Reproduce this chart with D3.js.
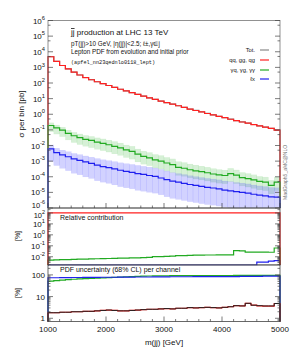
<!DOCTYPE html>
<html><head><meta charset="utf-8">
<script src="https://cdn.jsdelivr.net/npm/d3@7"></script>
<style>body{margin:0;background:#fff}svg{display:block;font-family:"Liberation Sans",Arial,sans-serif}</style>
</head><body><svg id="c" width="293" height="351"></svg>
<script>
// ---------------- data ----------------
const binEdges = [1000,1100,1200,1300,1400,1500,1600,1700,1800,1900,2000,2100,2200,2300,2400,2500,2600,2700,2800,2900,3000,3100,3200,3300,3400,3500,3600,3700,3800,3900,4000,4100,4200,4300,4400,4500,4600,4700,4800,4900,5000];
const seriesNames = ["Tot.", "qq, gg, qg", "γq, γg, γγ", "ℓx"];
// cross sections [pb] per bin
const totXs = [4810,2455,1322,797,491,325,225,162.5,120.4,91.2,69.2,52.6,39.9,31,24.1,18.65,14.55,11.22,8.92,6.92,5.51,4.41,3.51,2.76,2.145,1.745,1.414,1.123,0.912,0.742,0.602,0.482,0.392,0.321,0.271,0.221,0.181,0.1485,0.1234,0.0953];
const qqXs  = [4800,2450,1320,795,490,324,224,162,120,91,69,52.5,39.8,30.9,24,18.6,14.5,11.2,8.9,6.9,5.5,4.4,3.5,2.75,2.14,1.74,1.41,1.12,0.91,0.74,0.60,0.48,0.39,0.32,0.27,0.22,0.18,0.148,0.123,0.095];
const gamXs = [0.19,0.135,0.095,0.060,0.042,0.032,0.025,0.021,0.0166,0.0138,0.0112,0.0089,0.0071,0.0052,0.0042,0.0028,0.0020,0.0016,0.0012,0.0010,7.6e-4,6.0e-4,4.0e-4,3.5e-4,2.8e-4,2.4e-4,2.1e-4,1.8e-4,1.5e-4,1.3e-4,1.2e-4,1.6e-4,1.26e-4,8.9e-5,7.6e-5,6.3e-5,5.0e-5,4.5e-5,2.8e-5,4.5e-5];
const lepXs = [6.0e-3,3.5e-3,2.5e-3,1.9e-3,1.4e-3,1.12e-3,8.9e-4,7.1e-4,5.6e-4,4.5e-4,3.8e-4,3.2e-4,2.6e-4,2.2e-4,1.9e-4,1.6e-4,1.4e-4,1.2e-4,1.05e-4,8.3e-5,6.6e-5,5.2e-5,4.5e-5,3.8e-5,3.2e-5,2.8e-5,2.4e-5,2.1e-5,1.9e-5,1.66e-5,1.4e-5,1.26e-5,1.12e-5,1.0e-5,8.9e-6,7.6e-6,6.6e-6,6.0e-6,5.2e-6,5.0e-6];
// uncertainty band factors (upper / lower multipliers)
const gamBandUp = [1.48,1.5,1.55,1.6,1.65,1.7,1.75,1.8,1.85,1.9,1.95,2.0,2.0,2.05,2.1,2.1,2.15,2.2,2.2,2.25,2.25,2.3,2.3,2.3,2.3,2.3,2.25,2.25,2.2,2.2,2.2,2.15,2.15,2.1,2.1,2.1,2.1,2.1,2.1,2.1];
const gamBandDn = [0.41,0.40,0.39,0.38,0.37,0.36,0.36,0.35,0.35,0.34,0.34,0.33,0.33,0.33,0.32,0.32,0.32,0.32,0.31,0.31,0.31,0.31,0.31,0.31,0.31,0.30,0.30,0.30,0.30,0.30,0.30,0.30,0.29,0.29,0.29,0.29,0.29,0.29,0.29,0.29];
const lepBandUp = [1.8,1.9,2.0,2.1,2.2,2.3,2.4,2.5,2.6,2.7,2.8,2.9,3.0,3.1,3.2,3.3,3.3,3.4,3.4,3.5,3.5,3.5,3.5,3.6,3.6,3.6,3.7,3.7,3.7,3.8,3.8,3.8,3.8,3.9,3.9,3.9,3.9,3.9,3.9,3.9];
const lepBandDn = [0.16,0.15,0.14,0.13,0.12,0.12,0.11,0.11,0.10,0.10,0.10,0.095,0.09,0.09,0.09,0.085,0.085,0.085,0.085,0.085,0.08,0.08,0.08,0.08,0.08,0.08,0.08,0.08,0.08,0.08,0.08,0.08,0.08,0.08,0.08,0.08,0.08,0.08,0.08,0.08];
// relative contribution [%]
const qqRel  = [99.99,99.99,99.99,99.99,99.99,99.99,99.99,99.99,99.99,99.99,99.99,99.99,99.99,99.99,99.99,99.99,99.99,99.99,99.99,99.99,99.99,99.99,99.99,99.99,99.99,99.99,99.99,99.99,99.99,99.99,99.99,99.99,99.98,99.98,99.98,99.98,99.98,99.98,99.98,99.97];
const gamRel = [0.005,0.0052,0.0054,0.0056,0.0058,0.006,0.0062,0.0064,0.0066,0.0068,0.007,0.0072,0.0074,0.0076,0.0078,0.008,0.0085,0.009,0.0105,0.0105,0.011,0.0115,0.013,0.013,0.0135,0.014,0.014,0.0145,0.0145,0.015,0.015,0.015,0.037,0.035,0.027,0.027,0.027,0.027,0.026,0.063];
const lepRel = [0.001,0.001,0.001,0.001,0.001,0.001,0.001,0.001,0.001,0.001,0.001,0.001,0.001,0.001,0.001,0.001,0.001,0.001,0.001,0.001,0.001,0.001,0.001,0.001,0.001,0.001,0.001,0.001,0.001,0.001,0.001,0.001,0.001,0.001,0.001,0.001,0.0032,0.0032,0.004,0.0045];
// PDF uncertainty per channel [%]
const totUnc = [1.8,1.8,1.9,1.9,2.0,2.0,2.1,2.1,2.2,2.3,2.4,2.3,2.2,2.2,2.3,2.4,2.5,2.6,2.6,2.7,2.8,2.7,2.9,2.9,3.1,3.0,3.1,3.2,3.1,3.0,3.2,3.4,3.8,3.7,4.9,4.0,3.8,3.7,3.7,4.8];
const qqUnc  = [1.8,1.8,1.9,1.9,2.0,2.0,2.1,2.1,2.2,2.3,2.4,2.3,2.2,2.2,2.3,2.4,2.5,2.6,2.6,2.7,2.8,2.7,2.9,2.9,3.1,3.0,3.1,3.2,3.1,3.0,3.2,3.4,3.8,3.7,4.9,4.0,3.7,3.6,3.6,4.8];
const gamUnc = [52,55,58,61,63,65,67,69,71,73,75,77,79,81,83,85,87,89,90,91,91,92,92,92,93,93,93,93,94,94,94,94,95,95,95,95,95,95,95,96];
const lepUnc = [74,74,75,75,76,76,77,77,77,78,78,78,79,79,79,80,80,80,81,81,81,82,82,82,82,83,83,83,83,84,84,84,84,85,85,86,86,87,87,88];
const xTicks = [1000,2000,3000,4000,5000];
const colors = {tot:"#888888", qq:"#ff2020", gam:"#22aa22", lep:"#2020ee"};

// ---------------- layout ----------------
const svg = d3.select("#c");
const X0 = 48, X1 = 280;
const x = d3.scaleLinear().domain([1000,5000]).range([X0,X1]);
const yMain = d3.scaleLog().domain([1e-6,1e6]).range([208,20.5]).clamp(true);
const yRel  = d3.scaleLog().domain([Math.pow(10,-2.75),Math.pow(10,2.45)]).range([265,208]).clamp(true);
const yUnc  = d3.scaleLog().domain([0.71,286]).range([321.5,265]).clamp(true);
const frameCol = "#444";

function stepPath(vals, y){
  const lo = y.domain()[0];
  const pts = [[binEdges[0], lo]];
  vals.forEach((v,i)=>pts.push([binEdges[i], v]));
  pts.push([binEdges[binEdges.length-1], vals[vals.length-1]]);
  pts.push([binEdges[binEdges.length-1], lo]);
  return d3.line().x(d=>x(d[0])).y(d=>y(d[1])).curve(d3.curveStepAfter)(pts);
}
function drawHist(g, vals, y, color, w){
  g.append("path").attr("d", stepPath(vals,y)).attr("fill","none").attr("stroke",color).attr("stroke-width",w||1.2);
}
function drawBand(g, vals, up, dn, y, color, op){
  g.selectAll(null).data(vals).join("rect")
    .attr("x",(d,i)=>x(binEdges[i])).attr("width",(d,i)=>x(binEdges[i+1])-x(binEdges[i]))
    .attr("y",(d,i)=>y(d*up[i])).attr("height",(d,i)=>y(d*dn[i])-y(d*up[i]))
    .attr("fill",color).attr("fill-opacity",op).attr("stroke",color).attr("stroke-opacity",op*0.6).attr("stroke-width",0.4);
}
function supLabel(g, xx, yy, exp, fs){
  const t = g.append("text").attr("x",xx).attr("y",yy).attr("text-anchor","end").attr("font-size",fs).attr("fill","#111");
  t.append("tspan").text("10");
  t.append("tspan").attr("dy",-fs*0.48).attr("font-size",fs*0.72).text(exp);
}
function logAxis(y, exps, labelFn, minorAll){
  const [d0,d1] = y.domain();
  const g = svg.append("g");
  const lo = Math.floor(Math.log10(d0)), hi = Math.ceil(Math.log10(d1));
  for(let e=lo; e<=hi; e++){
    for(let m=1;m<10;m++){
      const v = m*Math.pow(10,e);
      if(v<d0*0.999||v>d1*1.001) continue;
      if(m!==1 && !minorAll && m!==5) continue;
      const len = m===1?5:2.5;
      const yy = y(v);
      g.append("line").attr("x1",X0).attr("x2",X0+len).attr("y1",yy).attr("y2",yy).attr("stroke",frameCol).attr("stroke-width",0.7);
      g.append("line").attr("x1",X1).attr("x2",X1-len).attr("y1",yy).attr("y2",yy).attr("stroke",frameCol).attr("stroke-width",0.7);
    }
  }
  exps.forEach(e=>labelFn(g, e));
}
function xAxisTicks(yy){
  const g = svg.append("g");
  for(let v=1000; v<=5000; v+=200){
    const len = (v%1000===0)?5:2.5;
    g.append("line").attr("x1",x(v)).attr("x2",x(v)).attr("y1",yy).attr("y2",yy-len).attr("stroke",frameCol).attr("stroke-width",0.7);
  }
}

// ---------------- main panel ----------------
const gMain = svg.append("g");
drawBand(gMain, gamXs, gamBandUp, gamBandDn, yMain, "#44bb44", 0.22);
drawBand(gMain, lepXs, lepBandUp, lepBandDn, yMain, "#4a4aff", 0.25);
drawHist(gMain, totXs, yMain, colors.tot);
drawHist(gMain, qqXs, yMain, colors.qq);
drawHist(gMain, gamXs, yMain, colors.gam);
drawHist(gMain, lepXs, yMain, colors.lep);
svg.append("rect").attr("x",X0).attr("y",20.5).attr("width",X1-X0).attr("height",208-20.5).attr("fill","none").attr("stroke","#777").attr("stroke-width",0.8);
logAxis(yMain, d3.range(-6,7), (g,e)=>supLabel(g, 45, yMain(Math.pow(10,e))+(e===-6?0:3), String(e), e===-6?7.5:8), false);
xAxisTicks(208);

// ---------------- relative contribution panel ----------------
const gRel = svg.append("g");
drawHist(gRel, lepRel, yRel, colors.lep);
drawHist(gRel, gamRel, yRel, colors.gam);
drawHist(gRel, qqRel, yRel, colors.qq);
svg.append("rect").attr("x",X0).attr("y",208).attr("width",X1-X0).attr("height",57).attr("fill","none").attr("stroke",frameCol).attr("stroke-width",0.8);
logAxis(yRel, d3.range(-2,3), (g,e)=>supLabel(g, 45, yRel(Math.pow(10,e))+(e===2?5:3), String(e), e===2?7.5:8), true);
svg.append("text").attr("x",60).attr("y",219.5).attr("font-size",7).attr("fill","#111").text("Relative contribution");

// ---------------- PDF uncertainty panel ----------------
const gUnc = svg.append("g");
drawHist(gUnc, gamUnc, yUnc, colors.gam);
drawHist(gUnc, lepUnc, yUnc, colors.lep);
drawHist(gUnc, qqUnc, yUnc, colors.qq);
drawHist(gUnc, totUnc, yUnc, "#222", 1);
svg.append("rect").attr("x",X0+1).attr("y",265.5).attr("width",X1-X0-2).attr("height",8).attr("fill","#fff");
svg.append("text").attr("x",60).attr("y",272).attr("font-size",7).attr("fill","#111").text("PDF uncertainty (68% CL) per channel");
svg.append("rect").attr("x",X0).attr("y",265).attr("width",X1-X0).attr("height",321.5-265).attr("fill","none").attr("stroke",frameCol).attr("stroke-width",0.8);
logAxis(yUnc, [0,1,2], (g,e)=>g.append("text").attr("x",45).attr("y",yUnc(Math.pow(10,e))+3).attr("text-anchor","end").attr("font-size",8).attr("fill","#111").text(String(Math.pow(10,e))), true);
xAxisTicks(321.5);
svg.append("g").selectAll("text").data(xTicks).join("text")
  .attr("x",d=>x(d)).attr("y",332).attr("text-anchor","middle").attr("font-size",8).attr("fill","#111").text(d=>d);

// ---------------- labels ----------------
svg.append("text").attr("transform","translate(24,114) rotate(-90)").attr("text-anchor","middle").attr("font-size",8).attr("fill","#111").text("σ per bin [pb]");
svg.append("text").attr("transform","translate(20,236) rotate(-90)").attr("text-anchor","middle").attr("font-size",7).attr("fill","#111").text("[%]");
svg.append("text").attr("transform","translate(20,293) rotate(-90)").attr("text-anchor","middle").attr("font-size",7).attr("fill","#111").text("[%]");
svg.append("text").attr("x",164).attr("y",345).attr("text-anchor","middle").attr("font-size",8).attr("fill","#111").text("m(jj) [GeV]");

const title = svg.append("text").attr("x",71).attr("y",35).attr("font-size",8).attr("fill","#111");
title.append("tspan").attr("text-decoration","overline").text("jj");
title.append("tspan").text(" production at LHC 13 TeV");
svg.append("text").attr("x",71).attr("y",46).attr("font-size",6.3).attr("fill","#111").text("pT(jj)>10 GeV, |η(jj)|<2.5; ℓ±,γ∈j");
svg.append("text").attr("x",71).attr("y",54).attr("font-size",6.3).attr("fill","#111").text("Lepton PDF from evolution and initial prior");
svg.append("text").attr("x",71).attr("y",64).attr("font-size",5.2).attr("font-family","'Liberation Mono',monospace").attr("fill","#111").text("(apfel_nn23qednlo0118_lept)");
svg.append("text").attr("transform","translate(287,200) rotate(-90)").attr("font-size",5).attr("fill","#777").text("MadGraph5_aMC@NLO");

// legend
const legCols = [colors.tot, colors.qq, colors.gam, colors.lep];
const legY = [52, 62, 72, 81];
const leg = svg.append("g");
seriesNames.forEach((n,i)=>{
  leg.append("text").attr("x",255).attr("y",legY[i]).attr("text-anchor","end").attr("font-size",5.8).attr("fill","#111").text(n);
  leg.append("line").attr("x1",260).attr("x2",269).attr("y1",legY[i]-2).attr("y2",legY[i]-2).attr("stroke",legCols[i]).attr("stroke-width",1.2);
});
</script></body></html>
